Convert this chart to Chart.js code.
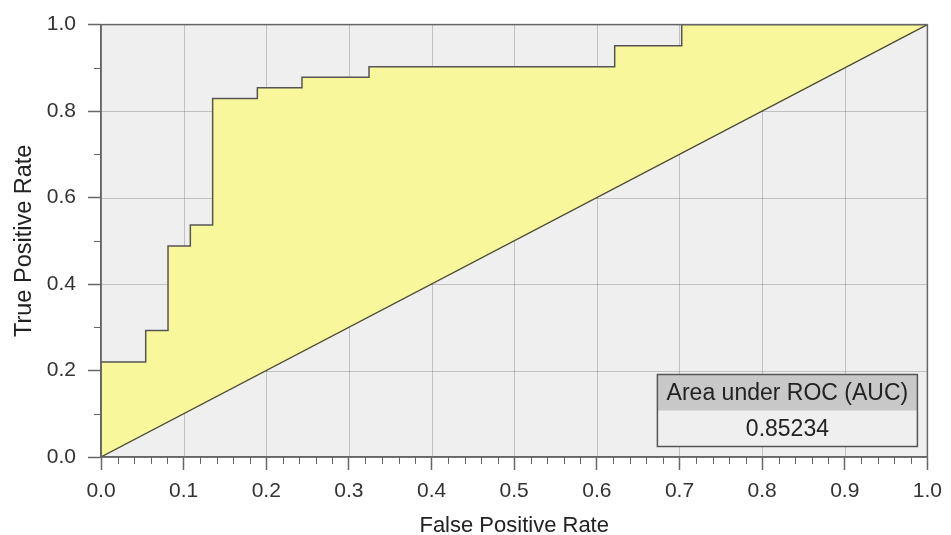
<!DOCTYPE html>
<html>
<head>
<meta charset="utf-8">
<script src="https://cdn.jsdelivr.net/npm/chart.js@4/dist/chart.umd.min.js"></script>
<style>
  html, body { margin: 0; padding: 0; background: #ffffff; }
  #wrap { width: 951px; height: 535px; }
</style>
</head>
<body>
<div id="wrap"><canvas id="roc" width="951" height="535"></canvas></div>
<script>
// ROC curve vertices (horizontal run first, then the vertical step)
const rocFpr = [0, 0, 0.0541, 0.0811, 0.1081, 0.1351, 0.1892, 0.2432, 0.3243, 0.6216, 0.7027, 1.0];
const rocTpr = [0, 0.2195, 0.2927, 0.4878, 0.5366, 0.8293, 0.8537, 0.8780, 0.9024, 0.9512, 1.0, 1.0];

// chance diagonal
const chanceFpr = [0, 1];
const chanceTpr = [0, 1];

// axis ticks
const xTicks = [0, 0.1, 0.2, 0.3, 0.4, 0.5, 0.6, 0.7, 0.8, 0.9, 1.0];
const yTicks = [0, 0.2, 0.4, 0.6, 0.8, 1.0];

const aucLabel = 'Area under ROC (AUC)';
const aucValue = 0.85234;

const FONT = '"Liberation Sans", Arial, sans-serif';
const AXIS_COLOR = '#666666';

const toPoints = (xs, ys) => xs.map((x, i) => ({ x: x, y: ys[i] }));

// grey plot background
const plotBackground = {
  id: 'plotBackground',
  beforeDraw(chart) {
    const { ctx, chartArea: a } = chart;
    ctx.save();
    ctx.fillStyle = '#efefef';
    ctx.fillRect(a.left, a.top, a.right - a.left, a.bottom - a.top);
    ctx.restore();
  }
};

// grid lines drawn over the area fill but below the lines
const overGrid = {
  id: 'overGrid',
  beforeDatasetsDraw(chart) {
    const { ctx, chartArea: a, scales } = chart;
    ctx.save();
    ctx.strokeStyle = 'rgba(110,110,110,0.35)';
    ctx.lineWidth = 1;
    xTicks.slice(1, -1).forEach(v => {
      const px = Math.round(scales.x.getPixelForValue(v)) + 0.5;
      ctx.beginPath(); ctx.moveTo(px, a.top); ctx.lineTo(px, a.bottom); ctx.stroke();
    });
    yTicks.slice(1, -1).forEach(v => {
      const py = Math.round(scales.y.getPixelForValue(v)) + 0.5;
      ctx.beginPath(); ctx.moveTo(a.left, py); ctx.lineTo(a.right, py); ctx.stroke();
    });
    ctx.restore();
  }
};

// frame, minor ticks and the AUC box
const frameAndBox = {
  id: 'frameAndBox',
  afterDraw(chart) {
    const { ctx, chartArea: a, scales } = chart;
    ctx.save();
    ctx.strokeStyle = AXIS_COLOR;
    ctx.lineWidth = 1.5;
    ctx.strokeRect(a.left, a.top, a.right - a.left, a.bottom - a.top);

    // minor ticks
    ctx.lineWidth = 1;
    for (let i = 1; i < 50; i++) {
      if (i % 5 === 0) continue;
      const px = Math.round(scales.x.getPixelForValue(i / 50)) + 0.5;
      ctx.beginPath(); ctx.moveTo(px, a.bottom); ctx.lineTo(px, a.bottom + 7); ctx.stroke();
    }
    for (let i = 1; i < 10; i += 2) {
      const py = Math.round(scales.y.getPixelForValue(i / 10)) + 0.5;
      ctx.beginPath(); ctx.moveTo(a.left, py); ctx.lineTo(a.left - 7, py); ctx.stroke();
    }

    // AUC box
    const w = 260, h = 72, hh = 36;
    const x1 = a.right - 10 - w;
    const y1 = a.bottom - 10.5 - h;
    ctx.fillStyle = '#efefef';
    ctx.fillRect(x1, y1, w, h);
    ctx.fillStyle = '#c8c8c8';
    ctx.fillRect(x1, y1, w, hh);
    ctx.strokeStyle = '#555555';
    ctx.lineWidth = 1.5;
    ctx.strokeRect(x1, y1, w, h);
    ctx.fillStyle = '#222222';
    ctx.font = '23px ' + FONT;
    ctx.textAlign = 'center';
    ctx.textBaseline = 'middle';
    ctx.fillText(aucLabel, x1 + w / 2, y1 + hh / 2 + 1);
    ctx.fillText(aucValue.toFixed(5), x1 + w / 2, y1 + hh + (h - hh) / 2 + 1);
    ctx.restore();
  }
};

new Chart(document.getElementById('roc'), {
  type: 'scatter',
  data: {
    datasets: [
      {
        label: 'Chance',
        data: toPoints(chanceFpr, chanceTpr),
        showLine: true,
        borderColor: '#4a4a30',
        borderWidth: 1.2,
        pointRadius: 0,
        fill: false
      },
      {
        label: 'ROC',
        data: toPoints(rocFpr, rocTpr),
        showLine: true,
        stepped: 'before',
        borderColor: '#555555',
        borderWidth: 1.5,
        pointRadius: 0,
        fill: { target: 0, above: '#f9f79b', below: '#f9f79b' }
      }
    ]
  },
  options: {
    responsive: false,
    animation: false,
    devicePixelRatio: 1,
    layout: { padding: { top: 23, right: 18, left: 0, bottom: 0 } },
    plugins: {
      legend: { display: false },
      tooltip: { enabled: false }
    },
    scales: {
      x: {
        type: 'linear',
        min: 0, max: 1,
        afterFit(s) { s.height = 78; },
        afterBuildTicks(s) { s.ticks = xTicks.map(v => ({ value: v })); },
        ticks: {
          callback: v => Number(v).toFixed(1),
          font: { family: FONT, size: 21 },
          color: '#333333',
          padding: 9,
          maxRotation: 0,
          autoSkip: false
        },
        grid: { drawOnChartArea: false, drawTicks: true, tickLength: 13, tickColor: AXIS_COLOR, tickWidth: 1.5 },
        border: { display: true, color: AXIS_COLOR, width: 1.5 },
        title: {
          display: true,
          text: 'False Positive Rate',
          color: '#222222',
          font: { family: FONT, size: 22, lineHeight: 1.0 },
          padding: { top: 0, bottom: -2 }
        }
      },
      y: {
        type: 'linear',
        min: 0, max: 1,
        afterFit(s) { s.width = 101; },
        afterBuildTicks(s) { s.ticks = yTicks.map(v => ({ value: v })); },
        ticks: {
          callback: v => Number(v).toFixed(1),
          font: { family: FONT, size: 21 },
          color: '#333333',
          padding: 12,
          autoSkip: false
        },
        grid: { drawOnChartArea: false, drawTicks: true, tickLength: 13, tickColor: AXIS_COLOR, tickWidth: 1.5 },
        border: { display: true, color: AXIS_COLOR, width: 1.5 },
        title: {
          display: true,
          text: 'True Positive Rate',
          color: '#222222',
          font: { family: FONT, size: 23.5, lineHeight: 1.0 },
          padding: 13
        }
      }
    }
  },
  plugins: [plotBackground, overGrid, frameAndBox]
});
</script>
</body>
</html>
